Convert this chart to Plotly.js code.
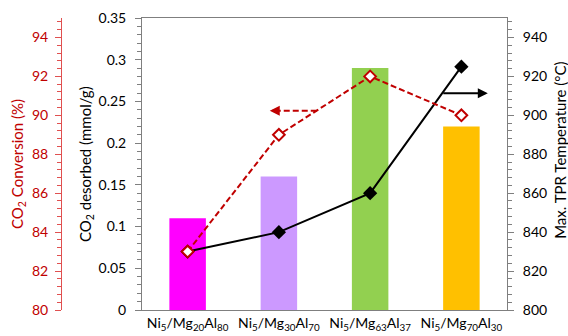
<!DOCTYPE html>
<html>
<head>
<meta charset="utf-8">
<script src="https://cdn.plot.ly/plotly-3.0.1.min.js"></script>
<style>html,body{margin:0;padding:0;background:#fff;}#chart{width:568px;height:336px;}</style>
</head>
<body>
<div id="chart"></div>
<script>
const categories = [
  "Ni<sub>5</sub>/Mg<sub>20</sub>Al<sub>80</sub>",
  "Ni<sub>5</sub>/Mg<sub>30</sub>Al<sub>70</sub>",
  "Ni<sub>5</sub>/Mg<sub>63</sub>Al<sub>37</sub>",
  "Ni<sub>5</sub>/Mg<sub>70</sub>Al<sub>30</sub>"
];
const co2Desorbed = [0.11, 0.16, 0.29, 0.22];
const co2Conversion = [83, 89, 92, 90];
const tprTemperature = [830, 840, 860, 925];
const barColors = ["#FF00FF", "#CC99FF", "#92D050", "#FFC000"];

const RED = "#C00000";
const FONT = "Lato, 'Open Sans', sans-serif";

const traces = [
  {
    type: "bar", x: categories, y: co2Desorbed, xaxis: "x", yaxis: "y",
    marker: {color: barColors}, width: 0.4, hoverinfo: "none"
  },
  {
    type: "scatter", mode: "lines+markers", x: categories, y: tprTemperature,
    xaxis: "x", yaxis: "y2",
    line: {color: "#000", width: 2},
    marker: {symbol: "diamond", size: 11, color: "#000"}
  },
  {
    type: "scatter", mode: "lines+markers", x: categories, y: co2Conversion,
    xaxis: "x", yaxis: "y3",
    line: {color: RED, width: 2, dash: "6px,3px"},
    marker: {symbol: "diamond", size: 9, color: "#fff", line: {color: RED, width: 2}}
  }
];

const layout = {
  width: 568, height: 336,
  margin: {l: 0, r: 0, t: 18, b: 26, pad: 0},
  paper_bgcolor: "#fff", plot_bgcolor: "#fff",
  showlegend: false,
  font: {family: FONT, size: 14, color: "#000"},
  xaxis: {
    domain: [142/568, 507/568],
    type: "category",
    showline: true, linecolor: "#7f7f7f", linewidth: 1, mirror: true,
    ticks: "", showgrid: false, zeroline: false,
    tickfont: {family: FONT, size: 14, color: "#000"}
  },
  yaxis: {
    range: [0, 0.35], dtick: 0.05,
    showline: true, linecolor: "#7f7f7f", linewidth: 1,
    ticks: "outside", ticklen: 6, tickcolor: "#7f7f7f",
    minor: {dtick: 0.01, ticks: "outside", ticklen: 4, tickcolor: "#7f7f7f", showgrid: false},
    ticklabelstandoff: 6,
    showgrid: false, zeroline: false,
    tickfont: {family: FONT, size: 14, color: "#000"}
  },
  yaxis2: {
    overlaying: "y", side: "right", anchor: "x",
    range: [800, 950], tickvals: [800, 820, 840, 860, 880, 900, 920, 940],
    showline: true, linecolor: "#7f7f7f", linewidth: 1,
    ticks: "outside", ticklen: 6, tickcolor: "#7f7f7f",
    minor: {dtick: 4, ticks: "outside", ticklen: 4, tickcolor: "#7f7f7f", showgrid: false},
    ticklabelstandoff: 6,
    showgrid: false, zeroline: false,
    tickfont: {family: FONT, size: 14, color: "#000"}
  },
  yaxis3: {
    overlaying: "y", side: "left", anchor: "free", position: 61/568,
    range: [80, 95], tickvals: [80, 82, 84, 86, 88, 90, 92, 94],
    showline: true, linecolor: "#E05050", linewidth: 1,
    ticks: "outside", ticklen: 6, tickcolor: "#E05050",
    minor: {dtick: 0.4, ticks: "outside", ticklen: 4, tickcolor: "#E05050", showgrid: false},
    ticklabelstandoff: 4,
    showgrid: false, zeroline: false,
    tickfont: {family: FONT, size: 14, color: RED}
  },
  shapes: [
    {type: "line", xref: "x", yref: "y3", x0: 1.415, y0: 90.24, x1: 0.97, y1: 90.24,
     line: {color: RED, width: 2, dash: "6px,3px"}}
  ],
  annotations: [
    {xref: "x", yref: "y3", x: 0.90, y: 90.24, axref: "x", ayref: "y3", ax: 1.0, ay: 90.24,
     text: "", showarrow: true, arrowhead: 2, arrowsize: 1, arrowwidth: 2, arrowcolor: RED},
    {xref: "x", yref: "y2", x: 3.29, y: 911.3, axref: "x", ayref: "y2", ax: 2.785, ay: 911.3,
     text: "", showarrow: true, arrowhead: 2, arrowsize: 1, arrowwidth: 2, arrowcolor: "#000"},
    {xref: "paper", yref: "paper", x: 18/568, y: 0.5, textangle: -90, showarrow: false,
     xanchor: "center", yanchor: "middle",
     text: "CO<sub>2</sub> Conversion (%)", font: {family: FONT, size: 15, color: RED}},
    {xref: "paper", yref: "paper", x: 86/568, y: 0.5, textangle: -90, showarrow: false,
     xanchor: "center", yanchor: "middle",
     text: "CO<sub>2</sub> desorbed (mmol/g)", font: {family: FONT, size: 15, color: "#000"}},
    {xref: "paper", yref: "paper", x: 560/568, y: 0.545, textangle: -90, showarrow: false,
     xanchor: "center", yanchor: "middle",
     text: "Max. TPR Temperature (°C)", font: {family: FONT, size: 15, color: "#000"}}
  ]
};

Plotly.newPlot("chart", traces, layout, {displayModeBar: false, staticPlot: true});
</script>
</body>
</html>
